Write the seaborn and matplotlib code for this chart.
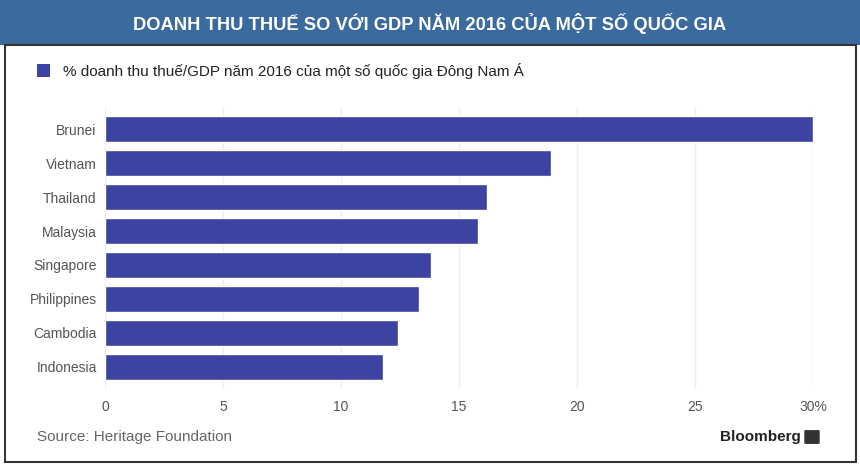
import numpy as np
import pandas as pd
import matplotlib.pyplot as plt
import matplotlib.patches as patches
import seaborn as sns

# Data
countries = ['Brunei', 'Vietnam', 'Thailand', 'Malaysia', 'Singapore', 'Philippines', 'Cambodia', 'Indonesia']
tax_pct = [30.0, 18.9, 16.2, 15.8, 13.8, 13.3, 12.4, 11.8]
x_ticks = [0, 5, 10, 15, 20, 25, 30]
x_tick_labels = ['0', '5', '10', '15', '20', '25', '30%']

title = 'DOANH THU THUẾ SO VỚI GDP NĂM 2016 CỦA MỘT SỐ QUỐC GIA'
legend_label = '% doanh thu thuế/GDP năm 2016 của một số quốc gia Đông Nam Á'
source = 'Source: Heritage Foundation'

df = pd.DataFrame({'country': countries, 'value': tax_pct})

sns.set_style('white')
plt.rcParams['font.family'] = ['Liberation Sans', 'DejaVu Sans']

bar_color = '#3d43a0'
fig = plt.figure(figsize=(8.6, 4.68), dpi=100)
ax = fig.add_axes([105 / 860, 1 - 389 / 468, 708 / 860, 282 / 468])

sns.barplot(data=df, x='value', y='country', orient='h', color=bar_color,
            width=0.76, saturation=1, ax=ax, zorder=3)

ax.set_xlim(0, 30)
ax.set_ylim(7.65, -0.65)
ax.set_xticks(x_ticks)
ax.set_xticklabels(x_tick_labels)
ax.grid(axis='x', color='#eeeeee', linewidth=1, zorder=0)
for s in ax.spines.values():
    s.set_visible(False)
ax.tick_params(axis='both', length=0, labelsize=10, labelcolor='#555555')
ax.tick_params(axis='x', pad=8)
ax.tick_params(axis='y', pad=6)
ax.set_xlabel('')
ax.set_ylabel('')

# title banner
fig.patches.append(patches.Rectangle((0, 1 - 45 / 468), 1, 45 / 468, transform=fig.transFigure,
                                     facecolor='#3a6a9e', edgecolor='none', zorder=0))
fig.text(0.5, 1 - 23 / 468, title, ha='center', va='center', color='white',
         fontsize=13.2, fontweight='bold', family=['Liberation Sans', 'DejaVu Sans'])

# outer border
fig.patches.append(patches.Rectangle((4.5 / 860, 6 / 468), 851 / 860, (468 - 45 - 6) / 468,
                                     transform=fig.transFigure, facecolor='none',
                                     edgecolor='#333333', linewidth=1.5, zorder=1))

# legend
fig.patches.append(patches.Rectangle((37 / 860, 1 - 77 / 468), 13 / 860, 13 / 468,
                                     transform=fig.transFigure, facecolor=bar_color, edgecolor='none'))
fig.text(63 / 860, 1 - 71 / 468, legend_label, ha='left', va='center', fontsize=11, color='#222222')

# footer
fig.text(37 / 860, 1 - 437 / 468, source, ha='left', va='center', fontsize=11, color='#666666')
fig.text(801 / 860, 1 - 437 / 468, 'Bloomberg', ha='right', va='center', fontsize=11,
         fontweight='bold', color='#222222')
fig.patches.append(patches.FancyBboxPatch((806 / 860, 1 - 443 / 468), 12 / 860, 12 / 468,
                                          boxstyle='round,pad=0.002', transform=fig.transFigure,
                                          facecolor='#333333', edgecolor='none'))

fig.savefig('out.png', dpi=100)
